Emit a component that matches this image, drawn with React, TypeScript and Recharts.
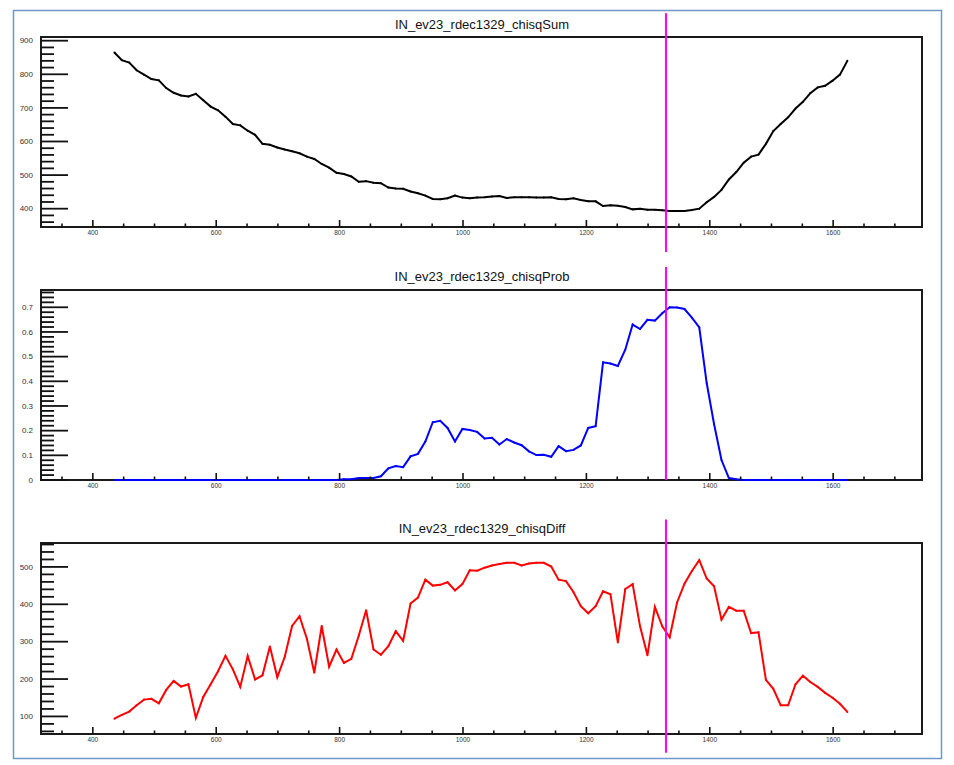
import { LineChart, Line, XAxis, YAxis, ReferenceArea, ReferenceLine } from "recharts";

// x positions (rdec) shared by all three graphs
const xs = [
  435, 447, 459, 471, 483, 495, 507, 519, 531, 543, 555, 567, 579, 591, 603, 615, 627, 639, 651, 663,
  675, 687, 699, 711, 723, 735, 747, 759, 771, 783, 795, 807, 819, 831, 843, 855, 867, 879, 891, 903,
  915, 927, 939, 951, 963, 975, 987, 999, 1011, 1023, 1035, 1047, 1059, 1071, 1083, 1095, 1107, 1119, 1131, 1143,
  1155, 1167, 1179, 1191, 1203, 1215, 1227, 1239, 1251, 1263, 1275, 1287, 1299, 1311, 1323, 1335, 1347, 1359, 1371, 1383,
  1395, 1407, 1419, 1431, 1443, 1455, 1467, 1479, 1491, 1503, 1515, 1527, 1539, 1551, 1563, 1575, 1587, 1599, 1611, 1623,
];

const chisqSum = [
  865, 842, 835, 812, 799, 786, 782, 759, 745, 737, 734, 742, 723, 704, 693, 674, 652, 648, 632, 620,
  593, 590, 582, 576, 571, 565, 555, 548, 533, 522, 507, 503, 496, 480, 482, 477, 476, 463, 460, 459,
  451, 446, 439, 429, 428, 431, 439, 433, 431, 433, 434, 436, 438, 432, 434, 434, 434, 433, 433, 434,
  429, 428, 431, 426, 422, 422, 408, 410, 409, 405, 398, 400, 397, 397, 395, 393, 393, 393, 396, 400,
  419, 435, 456, 487, 509, 537, 555, 561, 593, 631, 652, 672, 698, 718, 744, 761, 766, 781, 799, 840,
];

const chisqProb = [
  0, 0, 0, 0, 0, 0, 0, 0, 0, 0, 0, 0, 0, 0, 0, 0, 0, 0, 0, 0,
  0, 0, 0, 0, 0, 0, 0, 0, 0, 0, 0, 0.003, 0.003, 0.008, 0.008, 0.008, 0.015, 0.047, 0.057, 0.052,
  0.096, 0.106, 0.156, 0.234, 0.24, 0.211, 0.156, 0.207, 0.203, 0.195, 0.168, 0.171, 0.144, 0.166, 0.152, 0.141, 0.116, 0.101, 0.102, 0.094,
  0.137, 0.117, 0.122, 0.14, 0.211, 0.218, 0.477, 0.472, 0.462, 0.528, 0.63, 0.612, 0.649, 0.646, 0.676, 0.7, 0.699, 0.693, 0.658, 0.618,
  0.393, 0.226, 0.081, 0.008, 0.003, 0, 0, 0, 0, 0, 0, 0, 0, 0, 0, 0, 0, 0, 0, 0,
];

const chisqDiff = [
  94, 104, 113, 130, 145, 147, 135, 171, 195, 180, 186, 96, 152, 186, 221, 262, 226, 179, 262, 199,
  210, 287, 205, 259, 342, 368, 308, 217, 342, 233, 279, 243, 254, 316, 384, 279, 265, 288, 328, 302,
  402, 418, 466, 450, 452, 459, 437, 454, 491, 490, 498, 504, 508, 511, 511, 504, 509, 511, 511, 501,
  466, 462, 433, 395, 376, 395, 435, 427, 298, 441, 454, 341, 264, 393, 341, 312, 405, 455, 489, 518,
  469, 448, 359, 393, 383, 383, 323, 325, 198, 174, 130, 130, 186, 209, 192, 179, 163, 150, 134, 112,
];

const xTicks = [350, 400, 450, 500, 550, 600, 650, 700, 750, 800, 850, 900, 950, 1000, 1050, 1100, 1150, 1200,
  1250, 1300, 1350, 1400, 1450, 1500, 1550, 1600, 1650, 1700];
const sumTicks = [360, 380, 400, 420, 440, 460, 480, 500, 520, 540, 560, 580, 600, 620, 640, 660, 680, 700,
  720, 740, 760, 780, 800, 820, 840, 860, 880, 900];
const probTicks = [0, 0.02, 0.04, 0.06, 0.08, 0.1, 0.12, 0.14, 0.16, 0.18, 0.2, 0.22, 0.24, 0.26, 0.28, 0.3,
  0.32, 0.34, 0.36, 0.38, 0.4, 0.42, 0.44, 0.46, 0.48, 0.5, 0.52, 0.54, 0.56, 0.58, 0.6, 0.62, 0.64, 0.66,
  0.68, 0.7, 0.72, 0.74, 0.76];
const diffTicks = [60, 80, 100, 120, 140, 160, 180, 200, 220, 240, 260, 280, 300, 320, 340, 360, 380, 400,
  420, 440, 460, 480, 500, 520, 540, 560];

const marker = 1329;
const xDomain: [number, number] = [316, 1744];

const data = xs.map((x, i) => ({ x, sum: chisqSum[i], prob: chisqProb[i], diff: chisqDiff[i] }));

const FONT = "'Liberation Sans', Arial, sans-serif";

function XTick(props: any) {
  const { x, y, payload } = props;
  const major = Math.round(payload.value) % 200 === 0;
  return (
    <g>
      <line x1={x} x2={x} y1={y} y2={y - (major ? 7 : 3.5)} stroke="#111" strokeWidth={1.6} />
      {major && (
        <text x={x} y={y + 7.5} textAnchor="middle" fontSize={6.5} fill="#333" fontFamily={FONT}>
          {payload.value}
        </text>
      )}
    </g>
  );
}

function makeYTick(step: number, fmt: (v: number) => string) {
  return function YTick(props: any) {
    const { x, y, payload } = props;
    const r = payload.value / step;
    const major = Math.abs(r - Math.round(r)) < 1e-6;
    return (
      <g>
        <line x1={x} x2={x + (major ? 27 : 13)} y1={y} y2={y} stroke="#111" strokeWidth={1.8} />
        {major && (
          <text x={x - 8} y={y} dy="0.35em" textAnchor="end" fontSize={8} fill="#333" fontFamily={FONT}>
            {fmt(payload.value)}
          </text>
        )}
      </g>
    );
  };
}

type PanelProps = {
  top: number;
  height: number;
  mTop: number;
  xH: number;
  dataKey: string;
  color: string;
  domain: [number, number];
  ticks: number[];
  tick: (p: any) => any;
  seg: [number, number];
};

function Panel({ top, height, mTop, xH, dataKey, color, domain, ticks, tick, seg }: PanelProps) {
  return (
    <div style={{ position: "absolute", left: 0, top, width: 954, height }}>
      <LineChart width={954} height={height} data={data} margin={{ top: mTop, right: 32, bottom: 0, left: 0 }}>
        <XAxis
          dataKey="x"
          type="number"
          domain={xDomain}
          ticks={xTicks}
          interval={0}
          height={xH}
          tickSize={0}
          tickMargin={0}
          axisLine={false}
          tickLine={false}
          tick={XTick}
        />
        <YAxis
          type="number"
          domain={domain}
          ticks={ticks}
          interval={0}
          width={41}
          tickSize={0}
          tickMargin={0}
          axisLine={false}
          tickLine={false}
          tick={tick}
        />
        <ReferenceArea
          x1={xDomain[0]}
          x2={xDomain[1]}
          y1={domain[0]}
          y2={domain[1]}
          fill="none"
          stroke="#1a1a1a"
          strokeWidth={2}
          ifOverflow="visible"
        />
        <Line
          type="linear"
          dataKey={dataKey}
          stroke={color}
          strokeWidth={2}
          dot={{ r: 1, fill: color, strokeWidth: 0 }}
          isAnimationActive={false}
        />
        <ReferenceLine
          segment={[{ x: marker, y: seg[0] }, { x: marker, y: seg[1] }]}
          stroke="#ff00ff"
          strokeWidth={2}
          ifOverflow="visible"
        />
      </LineChart>
    </div>
  );
}

export default function App() {
  return (
    <div style={{ position: "absolute", left: 0, top: 0, width: 954, height: 765, background: "#fff" }}>
      <svg width={954} height={765} style={{ position: "absolute", left: 0, top: 0 }}>
        <rect x={13.5} y={10.5} width={928} height={748} fill="none" stroke="#7096cc" strokeWidth={1.5} />
        <text x={482} y={28.5} textAnchor="middle" fontSize={13} fill="#111" fontFamily={FONT}>
          IN_ev23_rdec1329_chisqSum
        </text>
        <text x={482} y={280.5} textAnchor="middle" fontSize={13} fill="#111" fontFamily={FONT}>
          IN_ev23_rdec1329_chisqProb
        </text>
        <text x={482} y={532.5} textAnchor="middle" fontSize={13} fill="#111" fontFamily={FONT}>
          IN_ev23_rdec1329_chisqDiff
        </text>
      </svg>
      <Panel top={0} height={256} mTop={37} xH={29} dataKey="sum" color="#000000"
        domain={[345.5, 911]} ticks={sumTicks} tick={makeYTick(100, (v) => String(v))} seg={[982, 271]} />
      <Panel top={256} height={250} mTop={34} xH={26} dataKey="prob" color="#0000ff"
        domain={[0, 0.77]} ticks={probTicks} tick={makeYTick(0.1, (v) => (v === 0 ? "0" : v.toFixed(1)))} seg={[0.863, 0]} />
      <Panel top={506} height={259} mTop={37} xH={31} dataKey="diff" color="#ff0000"
        domain={[53, 564]} ticks={diffTicks} tick={makeYTick(100, (v) => String(v))} seg={[627, 2.8]} />
    </div>
  );
}
